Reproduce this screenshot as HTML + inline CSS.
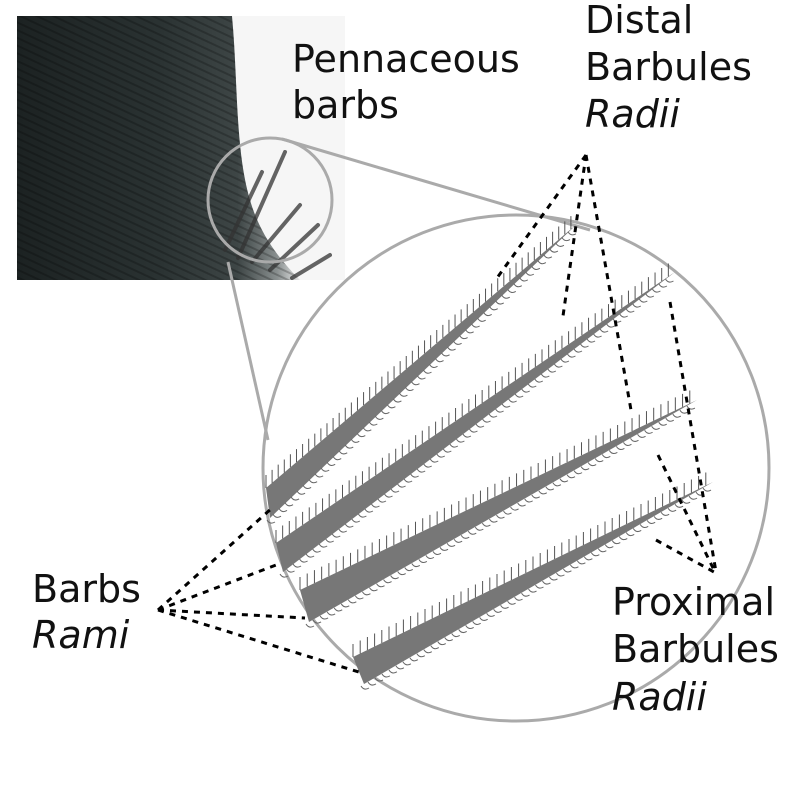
<!DOCTYPE html>
<html><head><meta charset="utf-8"><style>
html,body{margin:0;padding:0;background:#fff;}
svg{display:block}
text{font-family:"DejaVu Sans","Liberation Sans",sans-serif;font-size:38px;fill:#111}
</style></head><body>
<svg id="s" width="800" height="800" viewBox="0 0 800 800" xmlns="http://www.w3.org/2000/svg">
<defs>
<linearGradient id="pg" x1="0" y1="0" x2="1" y2="0">
<stop offset="0" stop-color="#1c2222"/><stop offset="0.5" stop-color="#2a3232"/><stop offset="0.78" stop-color="#3e4646"/><stop offset="0.92" stop-color="#8a9090"/><stop offset="1" stop-color="#e8e8e8"/>
</linearGradient>
<pattern id="str" width="7" height="7" patternUnits="userSpaceOnUse" patternTransform="rotate(-65)">
<rect width="2" height="7" fill="#000" opacity="0.22"/>
</pattern>
<clipPath id="pc"><rect x="17" y="16" width="328" height="264"/></clipPath>
</defs>
<g clip-path="url(#pc)">
<rect x="17" y="16" width="328" height="264" fill="#f6f6f6"/>
<path d="M17,16 L232,16 C238,80 235,150 250,200 C260,235 280,260 300,280 L17,280 Z" fill="url(#pg)"/>
<path d="M17,16 L232,16 C238,80 235,150 250,200 C260,235 280,260 300,280 L17,280 Z" fill="url(#str)"/>
<g stroke="#333" stroke-width="4" opacity="0.75" stroke-linecap="round">
<line x1="225" y1="250" x2="262" y2="172"/><line x1="238" y1="258" x2="285" y2="152"/>
<line x1="252" y1="262" x2="300" y2="205"/><line x1="270" y1="270" x2="318" y2="225"/>
<line x1="292" y1="278" x2="330" y2="255"/>
</g>
</g>
<g fill="none" stroke="#aaa" stroke-width="3">
<circle cx="270" cy="200" r="62"/>
<line x1="282" y1="139" x2="590" y2="230"/>
<line x1="228" y1="262" x2="268" y2="440"/>
<circle cx="516" cy="468" r="253"/>
</g>
<g id="barbs"></g>
<g stroke="#000" stroke-width="3" stroke-dasharray="6,6" fill="none">
<line x1="586" y1="155" x2="497" y2="278"/>
<line x1="586" y1="155" x2="563" y2="316"/>
<line x1="586" y1="155" x2="631" y2="410"/>
<line x1="670" y1="302" x2="716" y2="572"/>
<line x1="658" y1="455" x2="714" y2="570"/>
<line x1="656" y1="540" x2="714" y2="572"/>
<line x1="158" y1="610" x2="272" y2="508"/>
<line x1="158" y1="610" x2="276" y2="565"/>
<line x1="158" y1="610" x2="305" y2="618"/>
<line x1="158" y1="610" x2="362" y2="673"/>
</g>
<text x="292" y="72">Pennaceous</text>
<text x="292" y="118">barbs</text>
<text x="585" y="33">Distal</text>
<text x="585" y="80">Barbules</text>
<text x="585" y="127" font-style="italic">Radii</text>
<text x="32" y="602">Barbs</text>
<text x="32" y="648" font-style="italic">Rami</text>
<text x="612" y="615">Proximal</text>
<text x="612" y="662">Barbules</text>
<text x="612" y="710" font-style="italic">Radii</text>
</svg>
<script>
var g=document.getElementById('barbs'),NS='http://www.w3.org/2000/svg';
var B=[[[266,488],[270,518],[577,224]],[[276,543],[283,572],[675,272]],[[300,590],[309,622],[697,400]],[[353,657],[364,684],[713,482]]];
function el(n,a){var e=document.createElementNS(NS,n);for(var k in a)e.setAttribute(k,a[k]);g.appendChild(e);return e;}
B.forEach(function(b){
 var t=b[0],u=b[1],p=b[2];
 el('polygon',{points:t+' '+u+' '+p,fill:'#777'});
 var n=Math.round(Math.hypot(p[0]-t[0],p[1]-t[1])/8);
 var s='',c='';
 for(var i=0;i<n;i++){var f=i/n;
  var x=t[0]+(p[0]-t[0])*f,y=t[1]+(p[1]-t[1])*f;s+='M'+x+','+y+'l0,-13';
  var x2=u[0]+(p[0]-u[0])*f,y2=u[1]+(p[1]-u[1])*f;c+='M'+(x2-3)+','+(y2+2)+'q3,5 8,2';}
 el('path',{d:s,stroke:'#555','stroke-width':1,fill:'none'});
 el('path',{d:c,stroke:'#666','stroke-width':1,fill:'none'});
});
</script>
</body></html>
